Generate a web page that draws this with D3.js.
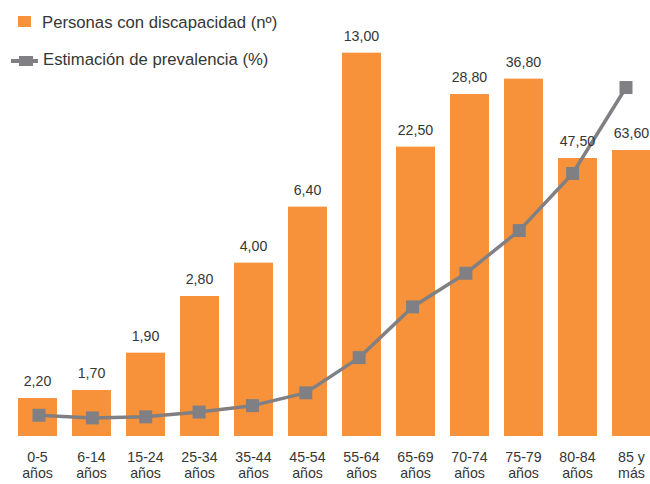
<!DOCTYPE html>
<html>
<head>
<meta charset="utf-8">
<script src="https://cdn.jsdelivr.net/npm/d3@7"></script>
<style>
  html, body { margin: 0; padding: 0; background: #fff; }
  svg { display: block; font-family: "Liberation Sans", Arial, sans-serif; }
</style>
</head>
<body>
<svg id="chart" width="650" height="484"></svg>
<script>
// Age groups
const categories = ["0-5 años", "6-14 años", "15-24 años", "25-34 años", "35-44 años", "45-54 años",
  "55-64 años", "65-69 años", "70-74 años", "75-79 años", "80-84 años", "85 y más"];
// Persons with disability (thousands)
const persons = [57, 69, 125, 210, 260, 344, 575, 434, 513, 536, 417, 429];
// Estimated prevalence (%)
const prevalence = [2.2, 1.7, 1.9, 2.8, 4.0, 6.4, 13.0, 22.5, 28.8, 36.8, 47.5, 63.6];
// Legend entries
const legendLabels = ["Personas con discapacidad (nº)", "Estimación de prevalencia (%)"];

const orange = "#f7923a";
const grey = "#808084";
const textColor = "#363636";

const svg = d3.select("#chart");
const baseY = 436;

const esLocale = d3.formatLocale({ decimal: ",", thousands: ".", grouping: [3], currency: ["", " €"] });
const fmt = esLocale.format(".2f");

const x = d3.scaleBand()
  .domain(categories)
  .range([10.5, 658.5])
  .paddingInner(15 / 54)
  .paddingOuter(15 / 108);

const xLine = d3.scalePoint()
  .domain(categories)
  .range([39, 626]);

const yBars = d3.scaleLinear().domain([0, 600]).range([baseY, 36]);
const yLine = d3.scaleLinear().domain([0, 80]).range([427, 0]);

// Bars
svg.append("g")
  .selectAll("rect")
  .data(categories)
  .join("rect")
  .attr("x", d => x(d))
  .attr("y", (d, i) => yBars(persons[i]))
  .attr("width", x.bandwidth())
  .attr("height", (d, i) => baseY - yBars(persons[i]))
  .attr("fill", orange);

// Prevalence line
const line = d3.line()
  .x((d, i) => xLine(categories[i]))
  .y(d => yLine(d));

svg.append("path")
  .datum(prevalence)
  .attr("d", line)
  .attr("fill", "none")
  .attr("stroke", grey)
  .attr("stroke-width", 3.5)
  .attr("stroke-linejoin", "round");

const mk = 13;
svg.append("g")
  .selectAll("rect")
  .data(prevalence)
  .join("rect")
  .attr("x", (d, i) => xLine(categories[i]) - mk / 2)
  .attr("y", d => yLine(d) - mk / 2)
  .attr("width", mk)
  .attr("height", mk)
  .attr("fill", grey);

// Value labels above the bars
svg.append("g")
  .selectAll("text")
  .data(categories)
  .join("text")
  .attr("x", d => x(d) + x.bandwidth() / 2)
  .attr("y", (d, i) => yBars(persons[i]) - 12)
  .attr("text-anchor", "middle")
  .attr("font-size", 14.2)
  .attr("fill", textColor)
  .text((d, i) => fmt(prevalence[i]));

// Category axis with two-line labels
const xAxis = svg.append("g")
  .attr("transform", `translate(0,${baseY})`)
  .call(d3.axisBottom(x).tickSize(0).tickFormat(""));
xAxis.select(".domain").remove();
xAxis.selectAll(".tick text").remove();
xAxis.selectAll(".tick").each(function(d) {
  const cut = d.lastIndexOf(" ");
  const lines = [d.slice(0, cut), d.slice(cut + 1)];
  const t = d3.select(this).append("text")
    .attr("text-anchor", "middle")
    .attr("font-size", 14.2)
    .attr("fill", textColor);
  lines.forEach((s, k) => {
    t.append("tspan").attr("x", 0).attr("y", 25.5 + k * 16).text(s);
  });
});

// Legend
const legend = svg.append("g");
legend.append("rect")
  .attr("x", 18).attr("y", 16).attr("width", 13).attr("height", 11)
  .attr("fill", orange);
legend.append("text")
  .attr("x", 42).attr("y", 27.5)
  .attr("font-size", 16.7).attr("fill", textColor)
  .text(legendLabels[0]);
legend.append("line")
  .attr("x1", 11).attr("x2", 38).attr("y1", 61).attr("y2", 61)
  .attr("stroke", grey).attr("stroke-width", 4);
legend.append("rect")
  .attr("x", 19).attr("y", 56).attr("width", 14).attr("height", 10)
  .attr("fill", grey);
legend.append("text")
  .attr("x", 43).attr("y", 64.5)
  .attr("font-size", 16.7).attr("fill", textColor)
  .text(legendLabels[1]);
</script>
</body>
</html>
